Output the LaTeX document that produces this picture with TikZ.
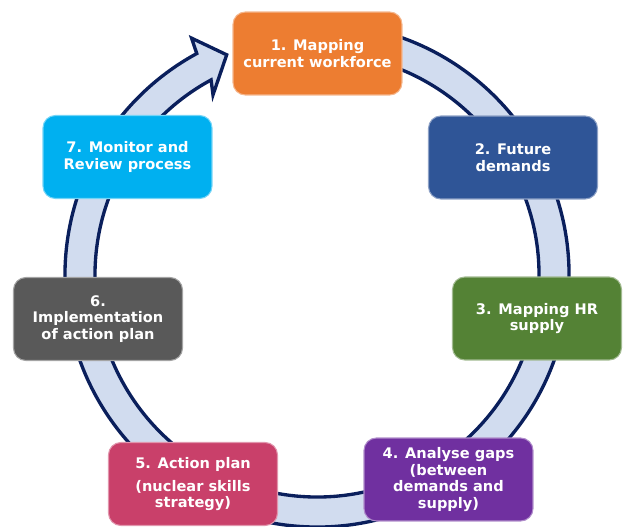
\documentclass[tikz,border=0pt]{standalone}
\usepackage{fontspec}
\setmainfont{DejaVu Sans}
\usepackage{xcolor}
\usepackage{tikz}
\usetikzlibrary{calc}
\definecolor{stageorange}{HTML}{ED7D31}
\definecolor{stageblue}{HTML}{2F5597}
\definecolor{stagegreen}{HTML}{548235}
\definecolor{stagepurple}{HTML}{7030A0}
\definecolor{stagepink}{HTML}{C9406A}
\definecolor{stagegray}{HTML}{595959}
\definecolor{stagecyan}{HTML}{00B0F0}
\definecolor{ringfill}{HTML}{D1DCEF}
\definecolor{ringline}{HTML}{0A1F5C}

\begin{document}
\begin{tikzpicture}[x=0.02cm,y=0.02cm,
    stagebox/.style={rounded corners=7pt,fill=#1,draw=#1!55!white,line width=0.6pt,
        minimum width=3.38cm,minimum height=1.66cm,align=center,text=white,
        font=\fontsize{8.3}{9.4}\selectfont\bfseries}]
    \useasboundingbox (0,0) rectangle (625,-527);
    \coordinate (hub) at (317,-275);
    \filldraw[fill=ringfill,draw=ringline,line width=1.9pt]
        ($(hub)+(80:252)$) arc[start angle=80,end angle=-241.5,radius=252]
        -- ($(hub)+(117.9:268)$) -- ($(hub)+(112.3:238)$) -- ($(hub)+(120:208)$)
        -- ($(hub)+(118.5:222)$) arc[start angle=-241.5,end angle=80,radius=222] -- cycle;
    \foreach \name/\px/\py/\tone/\txt in {
        mapping/317.5/53.5/stageorange/{1. Mapping\\current workforce},
        demands/513/157.5/stageblue/{2. Future\\demands},
        supply/537/318.5/stagegreen/{3. Mapping HR\\supply},
        gaps/448.5/479.5/stagepurple/{4. Analyse gaps\\(between\\demands and\\supply)},
        plan/193/484/stagepink/{5. Action plan\\[3.5pt](nuclear skills\\strategy)},
        implement/98/319/stagegray/{6.\\Implementation\\of action plan},
        review/127.5/157/stagecyan/{7. Monitor and\\Review process}}{
        \node[stagebox=\tone] (\name) at (\px,-\py) {\txt};
    }
\end{tikzpicture}
\end{document}
